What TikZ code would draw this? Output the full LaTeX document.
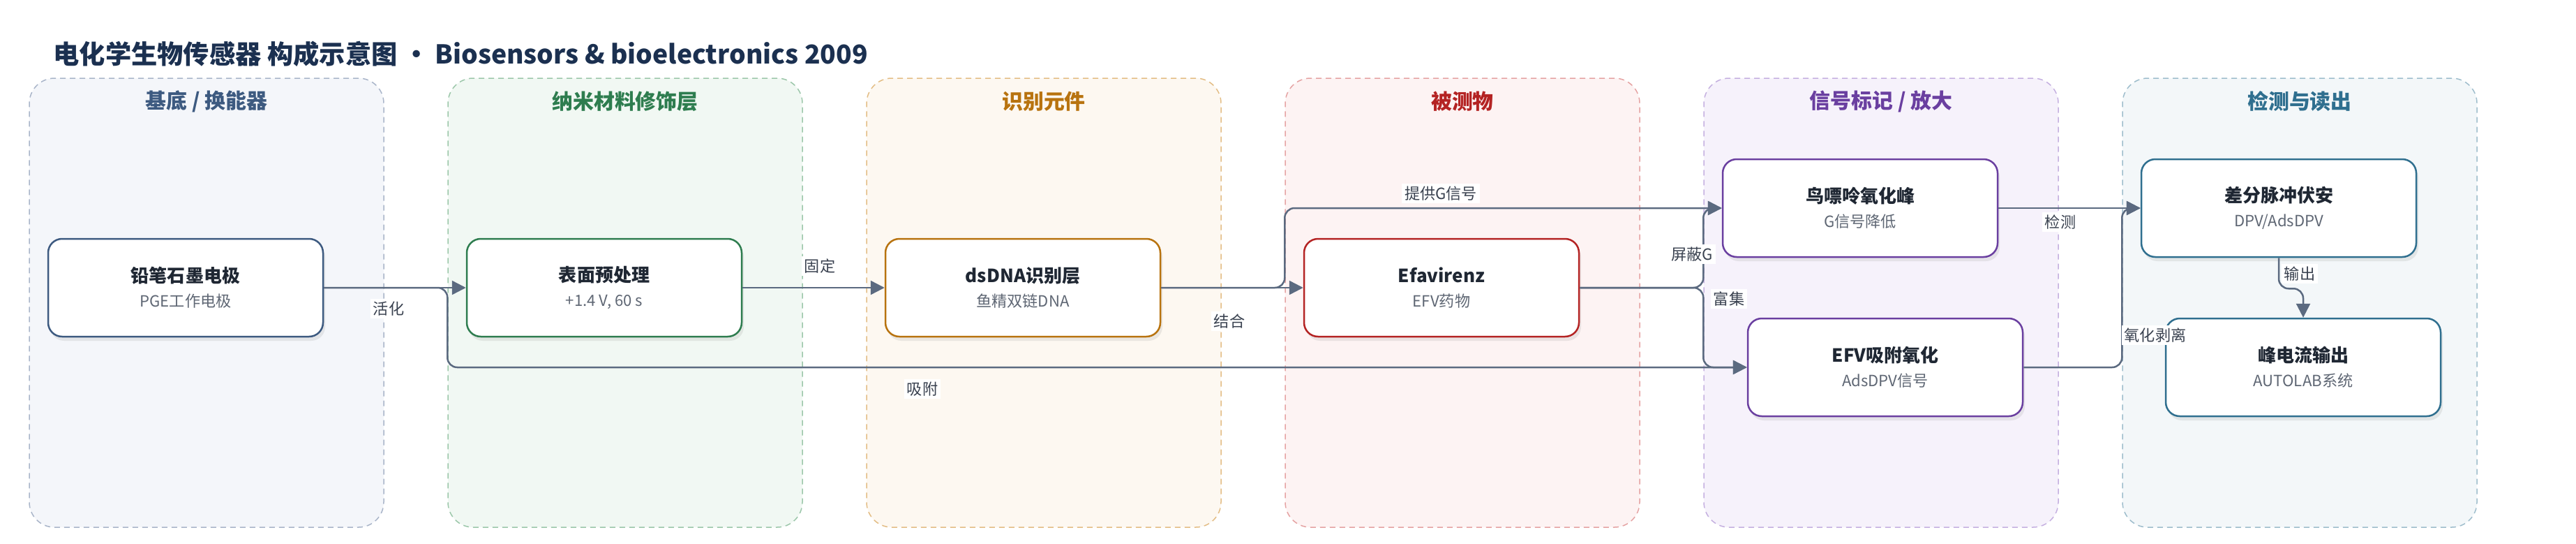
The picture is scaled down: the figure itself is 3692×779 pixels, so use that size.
\documentclass[tikz,border=0pt]{standalone}
\usepackage{fontspec}
\setmainfont{Noto Sans CJK SC}
\usetikzlibrary{arrows.meta, positioning, calc, shadows}

\definecolor{acc1}{HTML}{3D5A80}
\definecolor{acc2}{HTML}{2E7D4F}
\definecolor{acc3}{HTML}{B8730F}
\definecolor{acc4}{HTML}{B42323}
\definecolor{acc5}{HTML}{6A3FA0}
\definecolor{acc6}{HTML}{2F6F8F}
\definecolor{fill1}{HTML}{F4F6FA}
\definecolor{fill2}{HTML}{F1F8F3}
\definecolor{fill3}{HTML}{FDF8F1}
\definecolor{fill4}{HTML}{FDF3F3}
\definecolor{fill5}{HTML}{F6F2FB}
\definecolor{fill6}{HTML}{F3F7F9}
\definecolor{dash1}{HTML}{A9B5C9}
\definecolor{dash2}{HTML}{9CC7AA}
\definecolor{dash3}{HTML}{E3BD85}
\definecolor{dash4}{HTML}{E5A3A3}
\definecolor{dash5}{HTML}{C5B0E0}
\definecolor{dash6}{HTML}{9EBDCC}
\definecolor{edgegray}{HTML}{5B6A80}
\definecolor{txtdark}{HTML}{1F2733}
\definecolor{subgray}{HTML}{5F6774}
\definecolor{lblgray}{HTML}{3A4250}
\definecolor{titlenavy}{HTML}{1B3050}

\newcommand{\stagetext}[2]{{\bfseries #1}\\{\color{subgray}\fontsize{6.3}{10}\selectfont #2}}

\tikzset{
  lane/.style={dash pattern=on 0.8mm off 0.6mm, line width=0.15mm, rounded corners=3.6mm,
    minimum width=50.8mm, minimum height=64.3mm},
  lanetitle/.style={font=\bfseries\fontsize{8.5}{10}\selectfont},
  stage/.style={draw, fill=white, line width=0.25mm, rounded corners=2mm,
    minimum width=39.4mm, minimum height=14mm, align=center, text=txtdark,
    font=\fontsize{7.4}{10}\selectfont,
    drop shadow={shadow xshift=0.3mm, shadow yshift=-0.6mm, opacity=0.15}},
  flow/.style={draw=edgegray, line width=0.25mm, rounded corners=1.4mm,
    -{Triangle[length=2mm,width=2mm]}},
  lbl/.style={fill=white, text=lblgray, inner sep=0.4mm, font=\fontsize{6.3}{8}\selectfont},
}

\begin{document}
\begin{tikzpicture}[x=0.1mm, y=-0.1mm]
\useasboundingbox (0,0) rectangle (3692,779);

% title
\node[anchor=west, inner sep=0, text=titlenavy, font=\bfseries\fontsize{10.6}{12}\selectfont]
  (title) at (76,77) {电化学生物传感器 构成示意图 • Biosensors \& bioelectronics 2009};

% lanes
\foreach \i/\t in {1/{基底 / 换能器}, 2/纳米材料修饰层, 3/识别元件, 4/被测物,
    5/{信号标记 / 放大}, 6/检测与读出} {
  \node[lane, draw=dash\i, fill=fill\i] (lane\i) at ({296+600*(\i-1)},433.5) {};
  \node[lanetitle, text=acc\i] (lt\i) at ({296+600*(\i-1)},145) {\t};
}

% stages
\node[stage, draw=acc1] (pge) at (266,412) {\stagetext{铅笔石墨电极}{PGE工作电极}};
\node[stage, draw=acc2] (pre) at (866,412) {\stagetext{表面预处理}{+1.4 V, 60 s}};
\node[stage, draw=acc3] (dna) at (1466,412) {\stagetext{dsDNA识别层}{鱼精双链DNA}};
\node[stage, draw=acc4] (efv) at (2066,412) {\stagetext{Efavirenz}{EFV药物}};
\node[stage, draw=acc5] (gua) at (2666,298) {\stagetext{鸟嘌呤氧化峰}{G信号降低}};
\node[stage, draw=acc5] (ads) at (2702,526) {\stagetext{EFV吸附氧化}{AdsDPV信号}};
\node[stage, draw=acc6] (dpv) at (3266,298) {\stagetext{差分脉冲伏安}{DPV/AdsDPV}};
\node[stage, draw=acc6] (peak) at (3301,526) {\stagetext{峰电流输出}{AUTOLAB系统}};

% connectors
\draw[flow] (pge.east) -- (pre.west);
\draw[flow] (pge.east) -- (lane2.west |- pge.east) |- (ads.west);
\draw[flow] (pre.east) -- (dna.west);
\draw[flow] (dna.east) -- (efv.west);
\draw[flow] (dna.east) -- (lane4.west |- dna.east) |- (gua.west);
\draw[flow] (efv.east) -- (lane5.west |- efv.east) |- (gua.west);
\draw[flow] (efv.east) -- (lane5.west |- efv.east) |- (ads.west);
\draw[flow] (gua.east) -- (dpv.west);
\draw[flow] (ads.east) -- (lane6.west |- ads.east) |- (dpv.west);
\draw[flow] (dpv.south) -- ++(0,44) -| (peak.north);

% connector labels
\node[lbl] (l-act) at (557,442) {活化};
\node[lbl] (l-ads) at (1322,557) {吸附};
\node[lbl] (l-fix) at (1175,381) {固定};
\node[lbl] (l-bind) at (1762,460) {结合};
\node[lbl] (l-gsig) at (2065,277) {提供G信号};
\node[lbl] (l-mask) at (2425,364) {屏蔽G};
\node[lbl] (l-enr) at (2478,428) {富集};
\node[lbl] (l-det) at (2953,318) {检测};
\node[lbl] (l-strip) at (3089,480) {氧化剥离};
\node[lbl] (l-out) at (3296,392) {输出};
\end{tikzpicture}
\end{document}
